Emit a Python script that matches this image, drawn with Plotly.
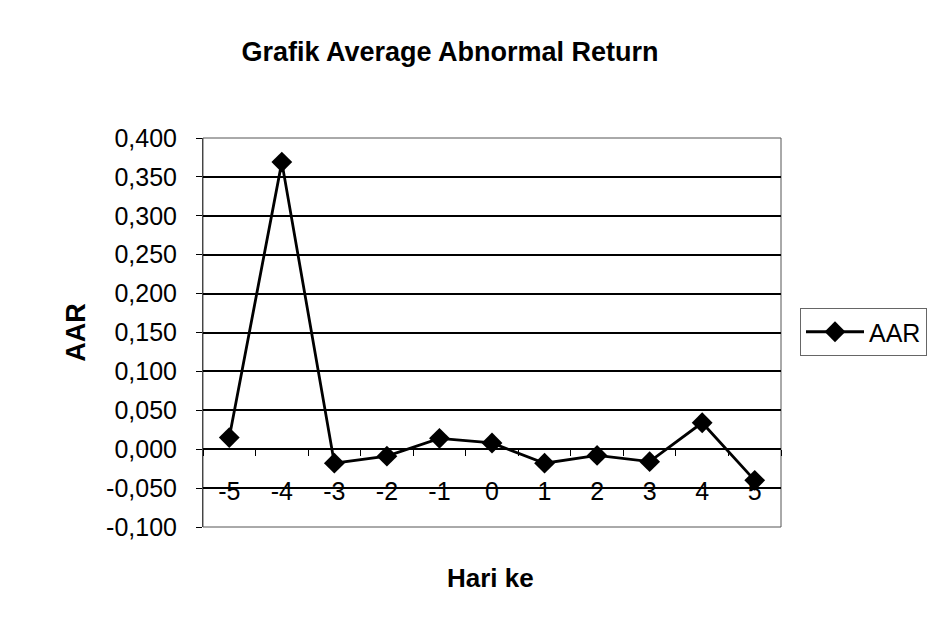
import plotly.graph_objects as go

# ---- data ----
days = ["-5", "-4", "-3", "-2", "-1", "0", "1", "2", "3", "4", "5"]
aar = [0.015, 0.369, -0.018, -0.009, 0.014, 0.008, -0.018, -0.008, -0.016, 0.034, -0.040]
y_tick_vals = [-0.10, -0.05, 0.00, 0.05, 0.10, 0.15, 0.20, 0.25, 0.30, 0.35, 0.40]
y_tick_text = ["-0,100", "-0,050", "0,000", "0,050", "0,100", "0,150",
               "0,200", "0,250", "0,300", "0,350", "0,400"]
y_min, y_max = -0.10, 0.40

FONT = "Liberation Sans, Arial, sans-serif"
# page body has an 8px margin, so the figure is laid out 8px smaller
W, H = 932, 625
L, R, T, B = 195, 159, 130, 106
pw, ph = W - L - R, H - T - B

fig = go.Figure()
fig.add_trace(go.Scatter(
    x=days, y=aar, mode="lines+markers", name="AAR",
    line=dict(color="black", width=2.8),
    marker=dict(symbol="diamond", size=16, color="black"),
))

axis_pos = (0 - y_min) / (y_max - y_min)

fig.update_layout(
    width=W, height=H,
    margin=dict(l=L, r=R, t=T, b=B, autoexpand=False),
    paper_bgcolor="white", plot_bgcolor="white",
    font=dict(family=FONT, color="black"),
    title=dict(text="<b>Grafik Average Abnormal Return</b>",
               x=442 / W, xref="container", xanchor="center",
               y=1 - 44 / H, yanchor="middle",
               font=dict(size=27, family=FONT, color="black")),
    showlegend=True,
    legend=dict(x=(792 - L) / pw, xanchor="left",
                y=(H - B - 324) / ph, yanchor="middle",
                bordercolor="#666666", borderwidth=1,
                itemwidth=58,
                font=dict(size=25, family=FONT, color="black"),
                bgcolor="white"),
    xaxis=dict(type="category", anchor="free", position=axis_pos,
               showline=True, linecolor="black", linewidth=1.5,
               ticks="outside", ticklen=6, tickcolor="black", tickson="boundaries",
               showgrid=False, zeroline=False,
               tickfont=dict(size=25, family=FONT, color="black"),
               ticklabelstandoff=20,
               range=[-0.5, len(days) - 0.5]),
    yaxis=dict(range=[y_min, y_max], tickvals=y_tick_vals, ticktext=y_tick_text,
               showgrid=True, gridcolor="black", gridwidth=1.5,
               zeroline=False, showline=True, linecolor="#444444", linewidth=1,
               ticks="outside", ticklen=6, tickcolor="black",
               tickfont=dict(size=25, family=FONT, color="black"),
               ticklabelstandoff=14,
               title=dict(text="<b>AAR</b>", font=dict(size=27, family=FONT, color="black"),
                          standoff=12)),
    annotations=[dict(text="<b>Hari ke</b>", xref="paper", yref="paper",
                      x=(482 - L) / pw, y=-(570 - (H - B)) / ph,
                      xanchor="center", yanchor="middle",
                      showarrow=False, font=dict(size=26, family=FONT, color="black"))],
    shapes=[
        dict(type="rect", xref="paper", yref="paper", x0=0, y0=0, x1=1, y1=1,
             line=dict(color="#555555", width=1), layer="below"),
    ],
)

fig.write_html("out.html")
